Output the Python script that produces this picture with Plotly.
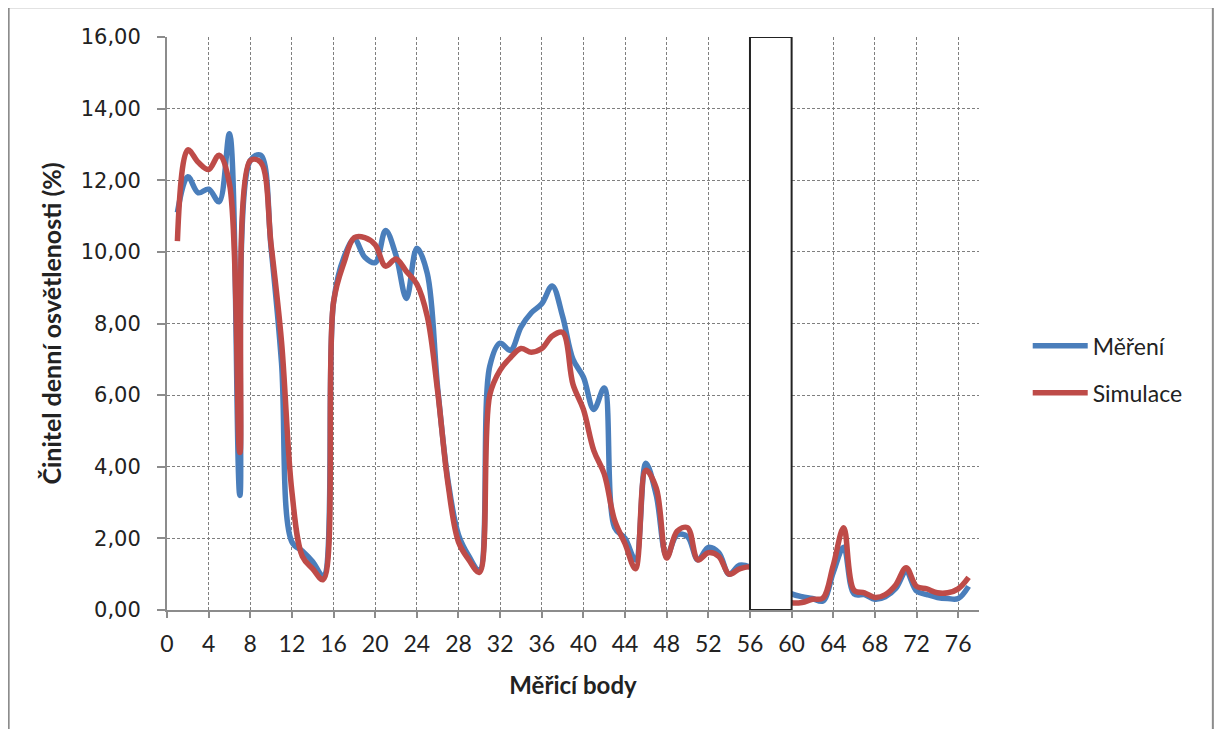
import plotly.graph_objects as go

body = list(range(1, 78))
mereni = [11.1, 12.1, 11.65, 11.75, 11.4, 13.3, 3.2, 12.55, 12.7, 10.1,
          6.9, 1.9, 1.65, 1.35, 0.95, 8.6, 9.85, 10.35, 9.85, 9.7,
          10.6, 9.9, 8.7, 10.1, 9.4, 6.2, 3.6, 2.1, 1.5, 1.1,
          6.8, 7.45, 7.25, 7.9, 8.3, 8.55, 9.05, 8.2, 7.0, 6.5,
          5.6, 6.2, 2.3, 2.0, 1.4, 4.1, 3.2, 1.5, 2.1, 2.05,
          1.4, 1.75, 1.6, 1.0, 1.25, 1.2, 1.0, 0.8, 0.6, 0.45,
          0.37, 0.32, 0.25, 1.05, 1.75, 0.45, 0.43, 0.3, 0.37, 0.6,
          1.07, 0.53, 0.43, 0.35, 0.32, 0.32, 0.66]
simulace = [10.3, 12.85, 12.5, 12.3, 12.7, 11.9, 4.4, 12.55, 12.5, 10.2,
            7.5, 3.3, 1.5, 1.15, 0.85, 8.6, 9.7, 10.4, 10.4, 10.2,
            9.6, 9.8, 9.45, 9.1, 8.2, 6.1, 3.5, 1.9, 1.4, 1.05,
            6.0, 6.7, 7.05, 7.3, 7.2, 7.3, 7.65, 7.75, 6.3, 5.6,
            4.45, 3.8, 2.5, 1.85, 1.15, 3.9, 3.4, 1.45, 2.2, 2.3,
            1.4, 1.6, 1.5, 1.0, 1.15, 1.2, 1.0, 0.6, 0.3, 0.2,
            0.21, 0.3, 0.33, 1.25, 2.3, 0.55, 0.48, 0.35, 0.43, 0.7,
            1.18, 0.66, 0.59, 0.48, 0.48, 0.59, 0.91]

# zakryta oblast (body 56-60)
skryto = [56, 60]

fig = go.Figure()
fig.add_trace(go.Scatter(x=body, y=mereni, name='Měření', mode='lines', line_shape='spline',
                         line=dict(color='#4A7EBB', width=5.5), legendgroup='a'))
fig.add_trace(go.Scatter(x=body, y=simulace, name='Simulace', mode='lines', line_shape='spline',
                         line=dict(color='#BE4B48', width=5.5), legendgroup='b'))

fig.add_shape(type='rect', x0=skryto[0], x1=skryto[1], y0=0, y1=16, xref='x', yref='y',
              fillcolor='white', line=dict(color='#222222', width=2), layer='above')
# ramecek kolem grafu
fig.add_shape(type='rect', xref='paper', yref='paper', x0=-0.195, x1=1.288, y0=-0.25, y1=1.052,
              line=dict(color='#8c8c8c', width=2), fillcolor='rgba(0,0,0,0)', layer='below')

fig.update_layout(
    width=1223, height=729,
    margin=dict(l=159, r=252, t=29, b=127),
    plot_bgcolor='white', paper_bgcolor='white',
    separators=', ',
    showlegend=True,
    legend=dict(x=1.06, y=0.42, xanchor='left', yanchor='middle', traceorder='grouped',
                tracegroupgap=14, itemwidth=55, font=dict(family='Lato', size=23, color='#222222'),
                bgcolor='rgba(0,0,0,0)'),
    xaxis=dict(range=[0, 78], tick0=0, dtick=4, showline=True, linecolor='#8c8c8c', linewidth=2,
               ticks='outside', ticklen=6, tickcolor='#8c8c8c', tickwidth=2, ticklabelstandoff=6,
               showgrid=True, gridcolor='#7f7f7f', gridwidth=1, griddash='3px,2px',
               zeroline=False, tickfont=dict(family='Lato', size=23, color='#222222'),
               title=dict(text='<b>Měřicí body</b>', font=dict(family='Lato', size=24, color='#222222'),
                          standoff=22)),
    yaxis=dict(range=[0, 16], dtick=2, tickformat='.2f', showline=True, linecolor='#8c8c8c', linewidth=2,
               ticks='outside', ticklen=8, tickcolor='#8c8c8c', tickwidth=2, ticklabelstandoff=12,
               showgrid=True, gridcolor='#7f7f7f', gridwidth=1, griddash='3px,2px',
               zeroline=False, tickfont=dict(family='DejaVu Sans', size=21, color='#222222'),
               title=dict(text='<b>Činitel denní osvětlenosti (%)</b>',
                          font=dict(family='Lato', size=25, color='#222222'), standoff=12)),
)

fig.write_html("out.html")
